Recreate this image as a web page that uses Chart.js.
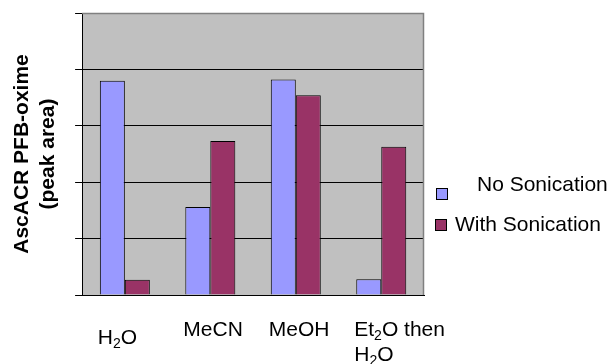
<!DOCTYPE html>
<html>
<head>
<meta charset="utf-8">
<script src="https://cdn.jsdelivr.net/npm/chart.js@4/dist/chart.umd.min.js"></script>
<style>
  html, body { margin: 0; padding: 0; background: #ffffff; }
  #wrap { width: 611px; height: 364px; }
</style>
</head>
<body>
<div id="wrap"><canvas id="c" width="611" height="364"></canvas></div>
<script>
// Solvent categories (digits after a letter are drawn as subscripts)
const categories = ['H2O', 'MeCN', 'MeOH', 'Et2O then|H2O'];
// Peak areas of AscACR PFB-oxime, arbitrary units
const noSonication = [3.80, 1.56, 3.82, 0.28];
const withSonication = [0.27, 2.73, 3.54, 2.63];
const seriesNames = ['No Sonication', 'With Sonication'];
const yTicks = [0, 1, 2, 3, 4, 5];

const FONT = '"Liberation Sans", Arial, Helvetica, sans-serif';
const colors = ['#9999FF', '#993366'];

// split a label into runs of normal text and subscript digits
function runs(line) {
  const out = [];
  const re = /([A-Za-z)])(\d+)/g;
  let last = 0, m;
  while ((m = re.exec(line)) !== null) {
    const cut = m.index + 1;
    out.push({ t: line.slice(last, cut), sub: false });
    out.push({ t: m[2], sub: true });
    last = cut + m[2].length;
  }
  out.push({ t: line.slice(last), sub: false });
  return out.filter(r => r.t.length);
}

const plotBox = {
  id: 'plotBox',
  beforeDraw(chart) {
    const { ctx, chartArea: a } = chart;
    ctx.save();
    ctx.fillStyle = '#C0C0C0';
    ctx.fillRect(a.left, a.top, a.right - a.left, a.bottom - a.top);
    ctx.restore();
  },
  afterDatasetsDraw(chart) {
    const { ctx, chartArea: a } = chart;
    ctx.save();
    ctx.strokeStyle = '#808080';
    ctx.lineWidth = 1.5;
    ctx.beginPath();
    ctx.moveTo(a.left, a.top + 0.5);
    ctx.lineTo(a.right - 0.5, a.top + 0.5);
    ctx.lineTo(a.right - 0.5, a.bottom);
    ctx.stroke();
    ctx.restore();
  }
};

// category labels with subscripts, placed from the x scale
const labelDy = [8, 0, 0, 0];
const catLabels = {
  id: 'catLabels',
  afterDraw(chart) {
    const { ctx, chartArea: a } = chart;
    const xs = chart.scales.x;
    ctx.save();
    ctx.fillStyle = '#000000';
    ctx.textBaseline = 'middle';
    ctx.textAlign = 'left';
    categories.forEach((lab, i) => {
      const cx = xs.getPixelForValue(i);
      const lines = lab.split('|');
      lines.forEach((ln, j) => {
        let x = cx - 27;
        const y = a.bottom + 35 + labelDy[i] + j * 25;
        runs(ln).forEach(r => {
          if (r.sub) {
            ctx.font = '14px ' + FONT;
            ctx.fillText(r.t, x, y + 6);
          } else {
            ctx.font = '21px ' + FONT;
            ctx.fillText(r.t, x, y);
          }
          x += ctx.measureText(r.t).width;
        });
      });
    });
    ctx.restore();
  }
};

// legend to the right of the plot
const sideLegend = {
  id: 'sideLegend',
  afterDraw(chart) {
    const { ctx } = chart;
    const items = [
      { box: [436, 188], text: [477, 185] },
      { box: [435, 219], text: [455, 225] }
    ];
    ctx.save();
    ctx.font = '21px ' + FONT;
    ctx.textBaseline = 'middle';
    ctx.textAlign = 'left';
    chart.data.datasets.forEach((ds, i) => {
      const it = items[i];
      ctx.fillStyle = ds.backgroundColor;
      ctx.fillRect(it.box[0], it.box[1], 12, 12);
      ctx.strokeStyle = '#000000';
      ctx.lineWidth = 1;
      ctx.strokeRect(it.box[0] + 0.5, it.box[1] + 0.5, 11, 11);
      ctx.fillStyle = '#000000';
      ctx.fillText(ds.label, it.text[0], it.text[1]);
    });
    ctx.restore();
  }
};

new Chart(document.getElementById('c'), {
  type: 'bar',
  data: {
    labels: categories.map(c => c.replace('|', ' ')),
    datasets: [
      { label: seriesNames[0], data: noSonication, backgroundColor: colors[0], borderColor: '#000000', borderWidth: 1 },
      { label: seriesNames[1], data: withSonication, backgroundColor: colors[1], borderColor: '#000000', borderWidth: 1 }
    ]
  },
  options: {
    responsive: false,
    animation: false,
    devicePixelRatio: 1,
    layout: { padding: { left: 4, right: 187, top: 13, bottom: 69 } },
    datasets: { bar: { categoryPercentage: 0.585, barPercentage: 1.0 } },
    plugins: { legend: { display: false }, tooltip: { enabled: false } },
    scales: {
      x: {
        grid: { display: false, drawTicks: false },
        border: { color: '#000000', width: 1 },
        ticks: { display: false }
      },
      y: {
        min: yTicks[0],
        max: yTicks[yTicks.length - 1],
        afterBuildTicks(scale) { scale.ticks = yTicks.map(v => ({ value: v })); },
        grid: {
          color: ctx => (ctx.tick && ctx.tick.value === yTicks[yTicks.length - 1]) ? 'rgba(0,0,0,0)' : '#000000',
          tickColor: '#000000',
          tickLength: 7,
          lineWidth: 1
        },
        border: { color: '#000000', width: 1 },
        ticks: { display: false },
        title: {
          display: true,
          text: ['AscACR PFB-oxime', '(peak area)'],
          font: { family: FONT, size: 21, weight: 'bold', lineHeight: 1.25 },
          color: '#000000',
          padding: { top: 4.6, bottom: 14 }
        }
      }
    }
  },
  plugins: [plotBox, catLabels, sideLegend]
});
</script>
</body>
</html>
